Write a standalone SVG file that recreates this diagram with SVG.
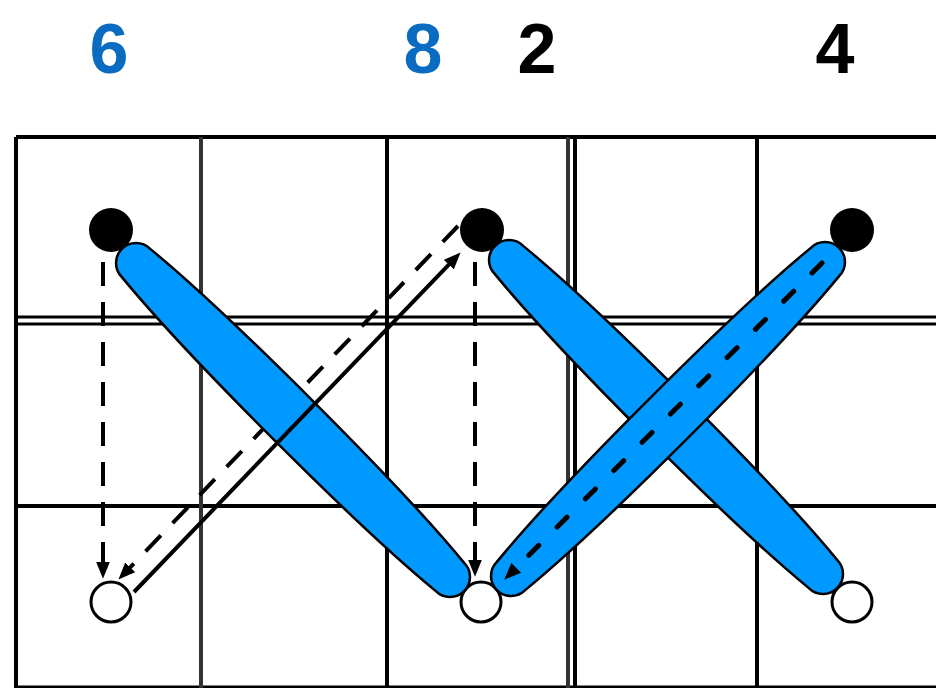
<svg xmlns="http://www.w3.org/2000/svg" width="936" height="688" viewBox="0 0 936 688">
<style>
.grid{stroke:#000;stroke-width:4;fill:none}
.gridg{stroke:#333;stroke-width:4;fill:none}
.lbl{font-family:"Liberation Sans",Arial,sans-serif;font-weight:bold;font-size:70px;text-anchor:middle}
.blue{fill:#0A6CC0}
.black{fill:#000}
.stitch{fill:#0099FF;stroke:#000;stroke-width:2.5}
.dot{fill:#000}
.hole{fill:#fff;stroke:#000;stroke-width:3}
.dash{stroke:#000;stroke-width:4;fill:none;stroke-dasharray:24 16}
.dashd{stroke:#000;stroke-width:4;fill:none;stroke-dasharray:22 17}
.solid{stroke:#000;stroke-width:4;fill:none}
.dashs{stroke:#000;stroke-width:5;fill:none;stroke-dasharray:14 26;stroke-linecap:round}
</style>
<defs>
<marker id="arr" viewBox="0 0 16 13" markerWidth="17" markerHeight="14" refX="3" refY="6.5" orient="auto" markerUnits="userSpaceOnUse">
<path d="M0,0 L16,6.5 L0,13 Z" fill="#000"/>
</marker>
<path id="stitchShape" d="M-222,-20 C-120,-30 120,-30 222,-20 A20,20 0 0 1 222,20 C120,30 -120,30 -222,20 A20,20 0 0 1 -222,-20 Z"/>
</defs>
<rect width="936" height="688" fill="#fff"/>
<g id="labels">
<text class="lbl blue" x="109" y="73">6</text>
<text class="lbl blue" x="423" y="73">8</text>
<text class="lbl black" x="537" y="73">2</text>
<text class="lbl black" x="835" y="73">4</text>
</g>
<g id="grid">
<path class="grid" d="M16,137 H936 M16,506 H936"/>
<path class="grid" style="stroke-width:3" d="M16,317 H936 M16,324 H936 M16,687 H936"/>
<path class="grid" d="M16,137 V688 M387,137 V688 M757,137 V688 M575,137 V688"/>
<path class="gridg" d="M201,137 V688 M568,137 V688"/>
</g>
<g id="holes">
<circle id="hole1" class="hole" cx="111" cy="602" r="20"/>
<circle id="hole2" class="hole" cx="481" cy="602" r="20"/>
<circle id="hole3" class="hole" cx="852" cy="602" r="20"/>
</g>
<g id="connectors-under">
<line class="dash" x1="103" y1="262" x2="103" y2="565" marker-end="url(#arr)"/>
<line class="dash" x1="475" y1="262" x2="475" y2="563" marker-end="url(#arr)"/>
<line class="dashd" x1="458" y1="226" x2="128" y2="569.6" marker-end="url(#arr)"/>
</g>
<g id="stitch1"><use href="#stitchShape" class="stitch" transform="translate(293,420) rotate(45)"/></g>
<g id="connectors">
<line class="solid" x1="134" y1="592" x2="451" y2="262.4" marker-end="url(#arr)"/>
</g>
<g id="stitch2"><use href="#stitchShape" class="stitch" transform="translate(666,417) rotate(45)"/></g>
<g id="stitch3"><use href="#stitchShape" class="stitch" transform="translate(668,419) rotate(-45)"/></g>
<g id="connector-stitch3">
<line class="dashs" x1="822" y1="263" x2="514" y2="570" marker-end="url(#arr)"/>
</g>
<g id="dots">
<circle id="dot1" class="dot" cx="111" cy="230" r="22"/>
<circle id="dot2" class="dot" cx="482" cy="230" r="22"/>
<circle id="dot3" class="dot" cx="852" cy="230" r="22"/>
</g>
</svg>
